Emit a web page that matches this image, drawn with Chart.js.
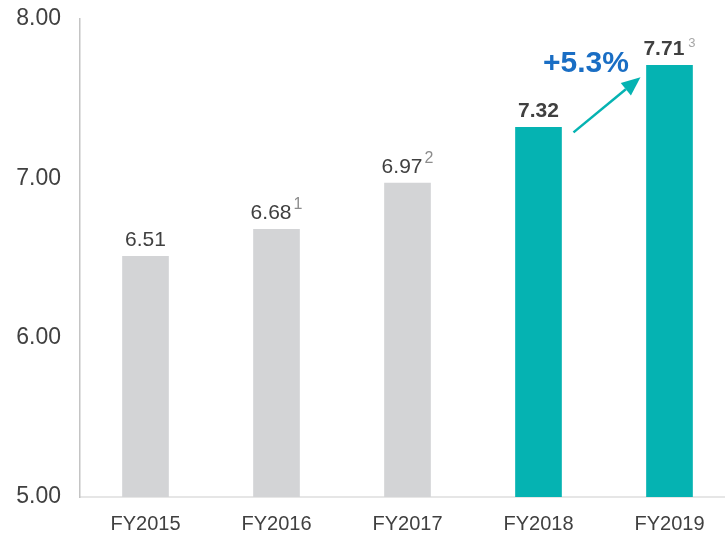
<!DOCTYPE html>
<html>
<head>
<meta charset="utf-8">
<script src="https://cdn.jsdelivr.net/npm/chart.js@4/dist/chart.umd.min.js"></script>
<style>
  html, body { margin: 0; padding: 0; background: #fff; overflow: hidden; }
  #wrap { width: 725px; height: 534px; position: relative; }
</style>
</head>
<body>
<div id="wrap"><canvas id="c" width="725" height="534"></canvas></div>
<script>
// ---- data ----
const categories = ['FY2015', 'FY2016', 'FY2017', 'FY2018', 'FY2019'];
const values = [6.51, 6.68, 6.97, 7.32, 7.71];
const footnotes = ['', '1', '2', '', '3'];
const highlighted = [false, false, false, true, true];
const yTicks = [5, 6, 7, 8];
const growthLabel = '+5.3%';

// ---- styles ----
const GREY = '#d3d4d6';
const TEAL = '#05b3b2';
const TEXT = '#404040';
const BLUE = '#1a6ec4';
const FONT = '"Liberation Sans", Arial, sans-serif';

const labelsPlugin = {
  id: 'barLabels',
  afterDatasetsDraw(chart) {
    const ctx = chart.ctx;
    const meta = chart.getDatasetMeta(0);
    ctx.save();
    meta.data.forEach((bar, i) => {
      const main = values[i].toFixed(2);
      const bold = highlighted[i];
      const mainFont = (bold ? 'bold ' : '') + '21px ' + FONT;
      const supFont = (bold ? '13px ' : '16px ') + FONT;
      const gap = bold ? 4 : 2;
      ctx.font = mainFont;
      const wMain = ctx.measureText(main).width;
      ctx.font = supFont;
      const sup = footnotes[i];
      const wSup = sup ? ctx.measureText(sup).width + gap : 0;
      const total = wMain + wSup;
      const x0 = bar.x - total / 2;
      const baseY = bar.y - 10;
      ctx.textAlign = 'left';
      ctx.textBaseline = 'alphabetic';
      ctx.font = mainFont;
      ctx.fillStyle = TEXT;
      ctx.fillText(main, x0, baseY);
      if (sup) {
        ctx.font = supFont;
        ctx.fillStyle = bold ? '#a6a6a6' : '#8c8c8c';
        ctx.fillText(sup, x0 + wMain + gap, baseY - (bold ? 8 : 10));
      }
    });
    // growth arrow between the last two bars
    const a = meta.data[3], b = meta.data[4];
    const sx = a.x + a.width / 2 + 12, sy = a.y + 5;
    const ex = b.x - b.width / 2 - 6, ey = b.y + 12;
    const ang = Math.atan2(ey - sy, ex - sx);
    const headLen = 19, headW = 8;
    const bx = ex - headLen * Math.cos(ang), by = ey - headLen * Math.sin(ang);
    ctx.strokeStyle = TEAL;
    ctx.fillStyle = TEAL;
    ctx.lineWidth = 2.5;
    ctx.beginPath();
    ctx.moveTo(sx, sy);
    ctx.lineTo(bx, by);
    ctx.stroke();
    ctx.beginPath();
    ctx.moveTo(ex, ey);
    ctx.lineTo(bx + headW * Math.sin(ang), by - headW * Math.cos(ang));
    ctx.lineTo(bx - headW * Math.sin(ang), by + headW * Math.cos(ang));
    ctx.closePath();
    ctx.fill();
    // growth text
    ctx.font = 'bold 30px ' + FONT;
    ctx.fillStyle = BLUE;
    ctx.textAlign = 'center';
    ctx.textBaseline = 'alphabetic';
    ctx.fillText(growthLabel, (a.x + b.x) / 2 - 18, b.y + 7);
    ctx.restore();
  }
};

const X_MIN = -0.5, X_MAX = 4.4237;

new Chart(document.getElementById('c'), {
  type: 'bar',
  data: {
    datasets: [{
      data: values.map((v, i) => ({ x: i, y: v })),
      backgroundColor: highlighted.map(h => h ? TEAL : GREY),
      barThickness: 46,
      base: 4.985,
      borderWidth: 0
    }]
  },
  options: {
    responsive: false,
    animation: false,
    devicePixelRatio: 1,
    layout: { padding: { top: 19, right: 0, left: 0, bottom: 0 } },
    plugins: { legend: { display: false }, tooltip: { enabled: false } },
    scales: {
      x: {
        type: 'linear',
        offset: false,
        min: X_MIN,
        max: X_MAX,
        z: 1,
        afterBuildTicks(scale) { scale.ticks = categories.map((_, i) => ({ value: i })); },
        afterFit(scale) { scale.height = 37; scale.paddingLeft = 0; scale.paddingRight = 0; },
        grid: { display: false, drawTicks: false, offset: false },
        border: { display: true, color: '#e6e6e6', width: 2 },
        ticks: {
          autoSkip: false,
          maxRotation: 0,
          padding: 15,
          color: TEXT,
          font: { family: FONT, size: 20 },
          callback: (v) => categories[v] !== undefined ? categories[v] : ''
        }
      },
      y: {
        min: 5,
        max: 8,
        afterBuildTicks(scale) { scale.ticks = yTicks.map(v => ({ value: v })); },
        afterFit(scale) { scale.width = 80; scale.paddingTop = 0; scale.paddingBottom = 0; },
        grid: { display: false, drawTicks: false },
        border: { display: true, color: '#c4c4c4', width: 1.5 },
        ticks: {
          padding: 19,
          color: TEXT,
          font: { family: FONT, size: 23 },
          callback: (v) => Number(v).toFixed(2)
        }
      }
    }
  },
  plugins: [labelsPlugin]
});
</script>
</body>
</html>
